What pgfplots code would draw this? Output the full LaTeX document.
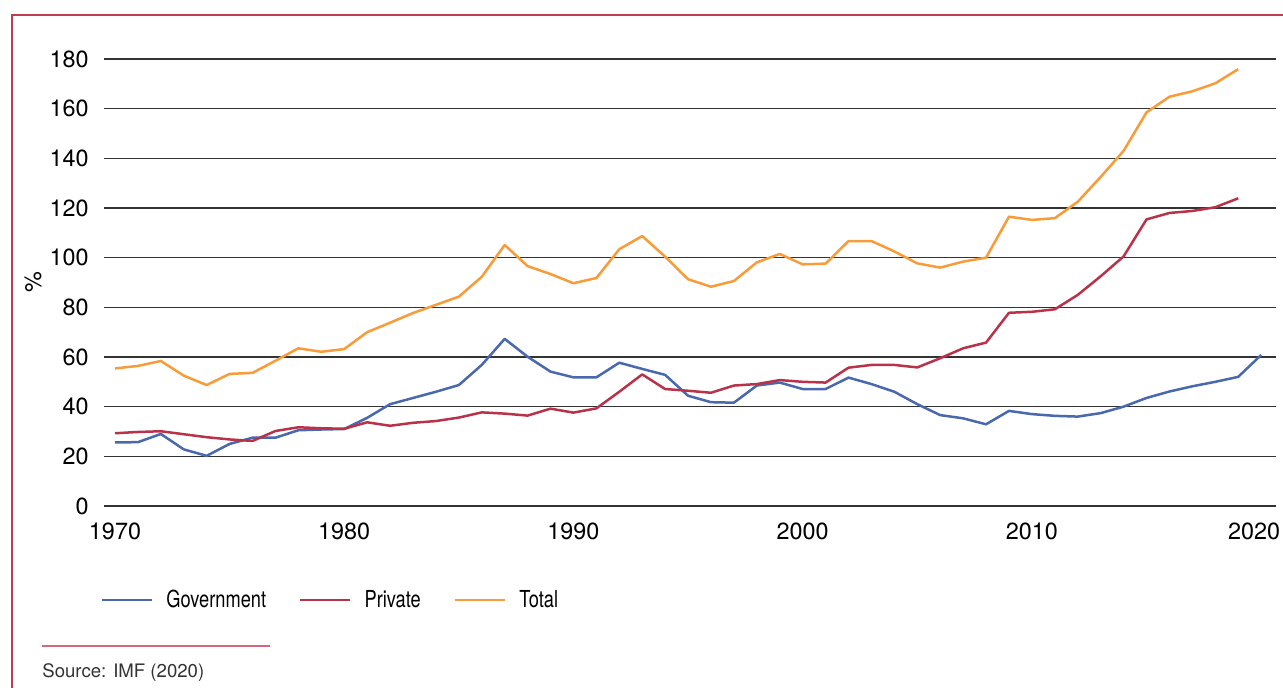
\documentclass[border=0pt]{standalone}
\usepackage{fontspec}
\setmainfont{TeX Gyre Heros}
\newfontfamily\narrowfont[FakeStretch=0.78]{TeX Gyre Heros}
\usepackage{pgfplots}
\pgfplotsset{compat=1.18}
\usepackage{pgfplotstable}
\definecolor{cgov}{HTML}{4A68AE}
\definecolor{cpriv}{HTML}{B8334A}
\definecolor{ctot}{HTML}{F89C3A}
\definecolor{cframe}{HTML}{C23B50}
\definecolor{csrc}{HTML}{D06A7A}
\pgfplotstableread{
year gov priv total
1970 25.6 29.3 55.4
1971 25.7 29.8 56.4
1972 29.0 30.1 58.4
1973 22.8 28.9 52.5
1974 20.2 27.7 48.7
1975 25.0 26.8 53.2
1976 27.5 26.2 53.6
1977 27.5 30.2 58.5
1978 30.5 31.7 63.5
1979 30.8 31.3 62.1
1980 31.0 31.1 63.2
1981 35.5 33.7 70.0
1982 41.0 32.3 73.8
1983 43.5 33.5 77.7
1984 46.0 34.2 81.0
1985 48.7 35.6 84.3
1986 56.8 37.7 92.3
1987 67.3 37.2 105.1
1988 60.1 36.4 96.6
1989 54.1 39.2 93.4
1990 51.8 37.6 89.7
1991 51.8 39.3 91.8
1992 57.7 46.0 103.4
1993 55.2 53.0 108.7
1994 52.8 47.1 100.4
1995 44.4 46.4 91.3
1996 41.8 45.6 88.3
1997 41.6 48.5 90.6
1998 48.5 49.1 98.1
1999 49.7 50.7 101.5
2000 47.1 50.0 97.3
2001 47.1 49.7 97.6
2002 51.7 55.7 106.7
2003 49.1 56.8 106.7
2004 46.0 56.8 102.5
2005 41.0 55.8 97.7
2006 36.6 59.5 96.0
2007 35.3 63.5 98.4
2008 32.9 65.8 100.0
2009 38.3 77.8 116.5
2010 37.0 78.2 115.2
2011 36.3 79.2 115.9
2012 36.0 85.0 122.5
2013 37.4 92.5 132.5
2014 40.0 100.5 143.0
2015 43.5 115.4 158.5
2016 46.1 118.0 164.8
2017 48.2 118.8 167.0
2018 50.0 120.3 170.2
2019 52.0 123.9 175.9
2020 60.8 nan nan
}\debtdata
\begin{document}
\begin{tikzpicture}
\begin{axis}[
  at={(0,0)}, anchor=south west,
  scale only axis, width=586pt, height=223.5pt,
  xmin=1969.52, xmax=2020.65, ymin=0, ymax=180,
  axis line style={draw=none},
  major tick length=0pt,
  xtick pos=bottom, ytick pos=left,
  xtick={1970,1980,1990,2000,2010,2020},
  xticklabels={1970,1980,1990,2000,2010,{\makebox[0pt][c]{\hspace*{-7pt}2020}}},
  ytick={0,20,...,180},
  ymajorgrids, grid style={black!80, line width=0.7pt},
  /pgf/number format/assume math mode=true,
  /pgf/number format/1000 sep={},
  ticklabel style={font=\fontsize{11.7}{14}\selectfont, text=black},
  yticklabel style={anchor=east, inner sep=0pt, xshift=-7.5pt},
  xticklabel style={anchor=north, inner sep=0pt, yshift=-8.5pt},
  ylabel={\%},
  ylabel style={at={(axis description cs:-0.0606,0.5)}, anchor=center, font=\fontsize{11.7}{14}\selectfont},
  legend columns=3,
  legend style={at={(axis description cs:-0.0026,-0.2103)}, anchor=west, draw=none, fill=none,
    inner sep=0pt, outer sep=0pt, nodes={inner sep=0pt},
    font=\narrowfont\fontsize{11.7}{14}\selectfont,
    /tikz/every odd column/.append style={column sep=6.5pt},
    /tikz/every even column/.append style={column sep=16.5pt}},
  legend image code/.code={\draw[#1] (0pt,0pt) -- (25pt,0pt);},
  every axis plot/.append style={line width=1.25pt, line join=round},
]
\addplot[cgov, no marks] table[x=year, y=gov] {\debtdata};
\addlegendentry{Government}
\addplot[cpriv, no marks] table[x=year, y=priv] {\debtdata};
\addlegendentry{Private}
\addplot[ctot, no marks] table[x=year, y=total] {\debtdata};
\addlegendentry{Total}
\end{axis}
\path[use as bounding box] (-52pt,-91pt) rectangle (589.5pt,253pt);
\draw[cframe, line width=1.1pt] (-45.9pt,-100pt) -- (-45.9pt,245.5pt) -- (600pt,245.5pt);
\draw[csrc, line width=0.6pt] (-31pt,-70pt) -- (83pt,-70pt);
\node[anchor=base west, inner sep=0pt, text=black!80, font=\fontsize{9.3}{11}\selectfont] at (-31pt,-85.75pt) {Source: IMF (2020)};
\end{tikzpicture}
\end{document}
